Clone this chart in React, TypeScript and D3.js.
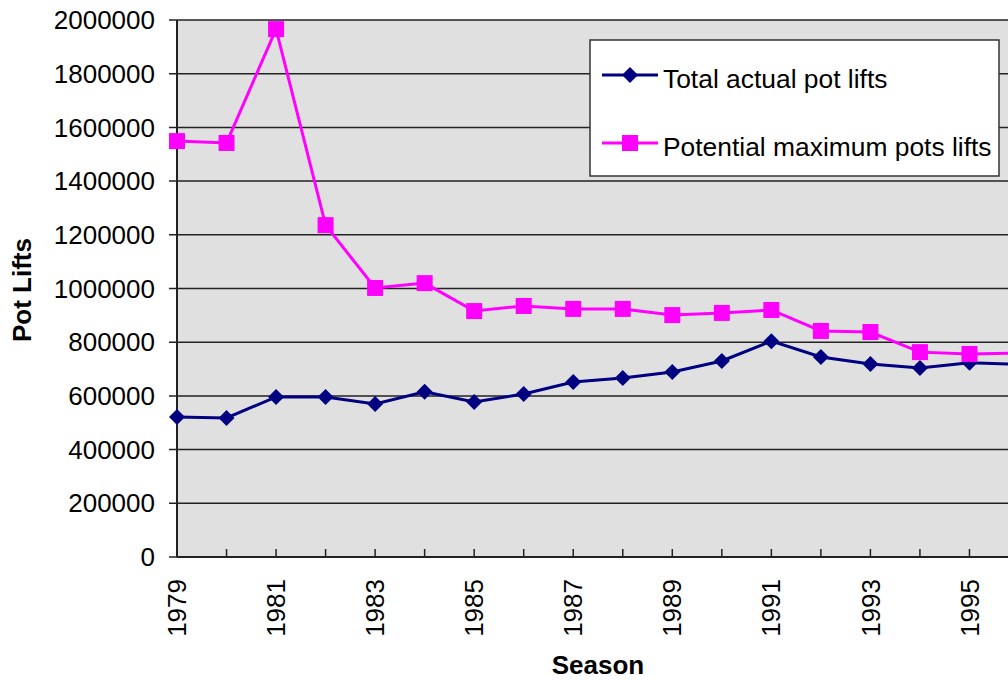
import React from "react";
import * as d3 from "d3";

const seasons = [1979, 1980, 1981, 1982, 1983, 1984, 1985, 1986, 1987, 1988, 1989, 1990, 1991, 1992, 1993, 1994, 1995, 1996];
const actualLifts = [521000, 518000, 596000, 596000, 570000, 615000, 577000, 607000, 652000, 667000, 689000, 730000, 804000, 745000, 719000, 704000, 723000, 718000];
const potentialLifts = [1549000, 1542000, 1966000, 1236000, 1002000, 1020000, 916000, 935000, 924000, 924000, 901000, 909000, 920000, 842000, 838000, 763000, 756000, 760000];
const yTicks = [0, 200000, 400000, 600000, 800000, 1000000, 1200000, 1400000, 1600000, 1800000, 2000000];
const xLabelYears = [1979, 1981, 1983, 1985, 1987, 1989, 1991, 1993, 1995];
const seriesNames = ["Total actual pot lifts", "Potential maximum pots lifts"];

const W = 1008;
const H = 680;
const left = 177;
const top = 20;
const bottom = 557;
const right = 1019;
const font = "'Liberation Sans', Arial, sans-serif";

export default function App() {
  const x = d3.scaleLinear().domain([1979, 1996]).range([left, right]);
  const y = d3.scaleLinear().domain([0, 2000000]).range([bottom, top]);
  const line = d3
    .line<number>()
    .x((_, i) => x(seasons[i]))
    .y((d) => y(d));
  const fs = 26;
  const lfs = 26.4;
  const navy = "#000080";
  const pink = "#FF00FF";
  const diamond = (cx: number, cy: number, r: number) =>
    `M${cx},${cy - r}L${cx + r},${cy}L${cx},${cy + r}L${cx - r},${cy}Z`;

  return (
    <svg
      width={W}
      height={H}
      style={{ position: "absolute", left: 0, top: 0, background: "#fff" }}
      fontFamily={font}
    >
      <rect x={left} y={top} width={right - left} height={bottom - top} fill="#E0E0E0" />
      {yTicks.map((t) => (
        <g key={t}>
          <line x1={left - 8} x2={right} y1={y(t)} y2={y(t)} stroke="#222" strokeWidth={1.5} />
          <text x={155} y={y(t)} dy="0.35em" textAnchor="end" fontSize={fs} fill="#000">
            {t}
          </text>
        </g>
      ))}
      <line x1={left} x2={left} y1={top} y2={bottom} stroke="#222" strokeWidth={2} />
      <line x1={left} x2={right} y1={bottom} y2={bottom} stroke="#222" strokeWidth={2} />
      {seasons.map((s) => (
        <line key={s} x1={x(s)} x2={x(s)} y1={bottom} y2={bottom - 8} stroke="#222" strokeWidth={1.5} />
      ))}
      {xLabelYears.map((s) => (
        <text
          key={s}
          transform={`translate(${x(s)},579) rotate(-90)`}
          dy="0.35em"
          textAnchor="end"
          fontSize={fs}
          fill="#000"
        >
          {s}
        </text>
      ))}
      <path d={line(actualLifts) || ""} fill="none" stroke={navy} strokeWidth={3} />
      <path d={line(potentialLifts) || ""} fill="none" stroke={pink} strokeWidth={3} />
      {actualLifts.map((v, i) => (
        <path key={i} d={diamond(x(seasons[i]), y(v), 8)} fill={navy} />
      ))}
      {potentialLifts.map((v, i) => (
        <rect key={i} x={x(seasons[i]) - 8} y={y(v) - 8} width={16} height={16} fill={pink} />
      ))}
      <g>
        <rect x={590} y={40} width={409} height={136} fill="#fff" stroke="#333" strokeWidth={1.5} />
        <line x1={602} x2={658} y1={75} y2={75} stroke={navy} strokeWidth={3} />
        <path d={diamond(630, 75, 8)} fill={navy} />
        <text x={663} y={88} fontSize={lfs} fill="#000">{seriesNames[0]}</text>
        <line x1={602} x2={658} y1={143} y2={143} stroke={pink} strokeWidth={3} />
        <rect x={622} y={135} width={16} height={16} fill={pink} />
        <text x={663} y={156} fontSize={lfs} fill="#000">{seriesNames[1]}</text>
      </g>
      <text
        transform="translate(22,290) rotate(-90)"
        dy="0.35em"
        textAnchor="middle"
        fontSize={fs}
        fontWeight="bold"
        fill="#000"
      >
        Pot Lifts
      </text>
      <text x={598} y={674} textAnchor="middle" fontSize={fs} fontWeight="bold" fill="#000">
        Season
      </text>
    </svg>
  );
}
